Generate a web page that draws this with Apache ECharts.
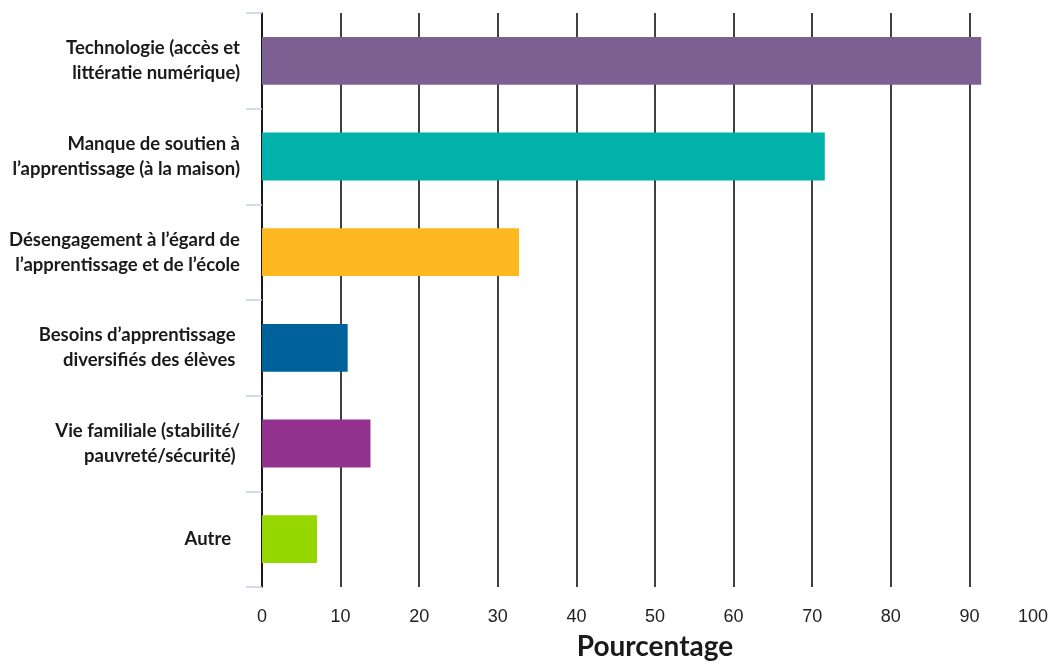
<!DOCTYPE html>
<html>
<head>
<meta charset="utf-8">
<script src="https://cdn.jsdelivr.net/npm/echarts@6/dist/echarts.min.js"></script>
<style>
  html, body { margin: 0; padding: 0; background: #fff; overflow: hidden; }
  #chart { width: 1051px; height: 666px; }
</style>
</head>
<body>
<div id="chart"></div>
<script>
const categories = [
  'Technologie (accès et\nlittératie numérique)',
  'Manque de soutien à\nl\u2019apprentissage (à la maison)',
  'Désengagement à l\u2019égard de\nl\u2019apprentissage et de l\u2019école',
  'Besoins d\u2019apprentissage \ndiversifiés des élèves ',
  'Vie familiale (stabilité/\npauvreté/sécurité) ',
  'Autre  '
]
const values = [91.5, 71.6, 32.7, 10.9, 13.8, 7.0]
const barColors = ['#7b6091', '#00b2a9', '#fdb71f', '#00629b', '#93328e', '#97d700']
const xTicks = [0, 10, 20, 30, 40, 50, 60, 70, 80, 90, 100]

const chart = echarts.init(document.getElementById('chart'))

// black split lines on every tick except the last one (100)
const splitColors = xTicks.map((t, i) => i === xTicks.length - 1 ? 'rgba(0,0,0,0)' : '#111')

const option = {
  animation: false,
  grid: {
    left: 262,
    right: 1,
    top: 13,
    bottom: 70,
    containLabel: false
  },
  xAxis: {
    type: 'value',
    min: xTicks[0],
    max: xTicks[xTicks.length - 1],
    interval: 10,
    name: 'Pourcentage',
    nameLocation: 'middle',
    nameGap: 46,
    nameTextStyle: {
      fontFamily: 'Lato',
      fontWeight: 'bold',
      fontSize: 28,
      color: '#1a1a1a'
    },
    axisLine: { show: false },
    axisTick: { show: false },
    axisLabel: {
      margin: 21,
      fontFamily: 'Liberation Sans',
      fontSize: 18,
      color: '#222',
      alignMaxLabel: 'right'
    },
    splitLine: {
      show: true,
      lineStyle: { color: splitColors, width: 1.6 }
    }
  },
  yAxis: {
    type: 'category',
    data: categories,
    inverse: true,
    axisLine: { show: true, lineStyle: { color: '#111', width: 1.6 } },
    axisTick: {
      show: true,
      length: 16,
      lineStyle: { color: '#c5cfe6', width: 1.5 }
    },
    axisLabel: {
      margin: 22,
      fontFamily: 'Lato',
      fontWeight: 'bold',
      fontSize: 18.5,
      lineHeight: 25,
      color: '#1a1a1a',
      align: 'right'
    }
  },
  series: [
    {
      type: 'bar',
      data: values.map((v, i) => ({ value: v, itemStyle: { color: barColors[i] } })),
      barCategoryGap: '50%'
    }
  ]
}

chart.setOption(option)
</script>
</body>
</html>
